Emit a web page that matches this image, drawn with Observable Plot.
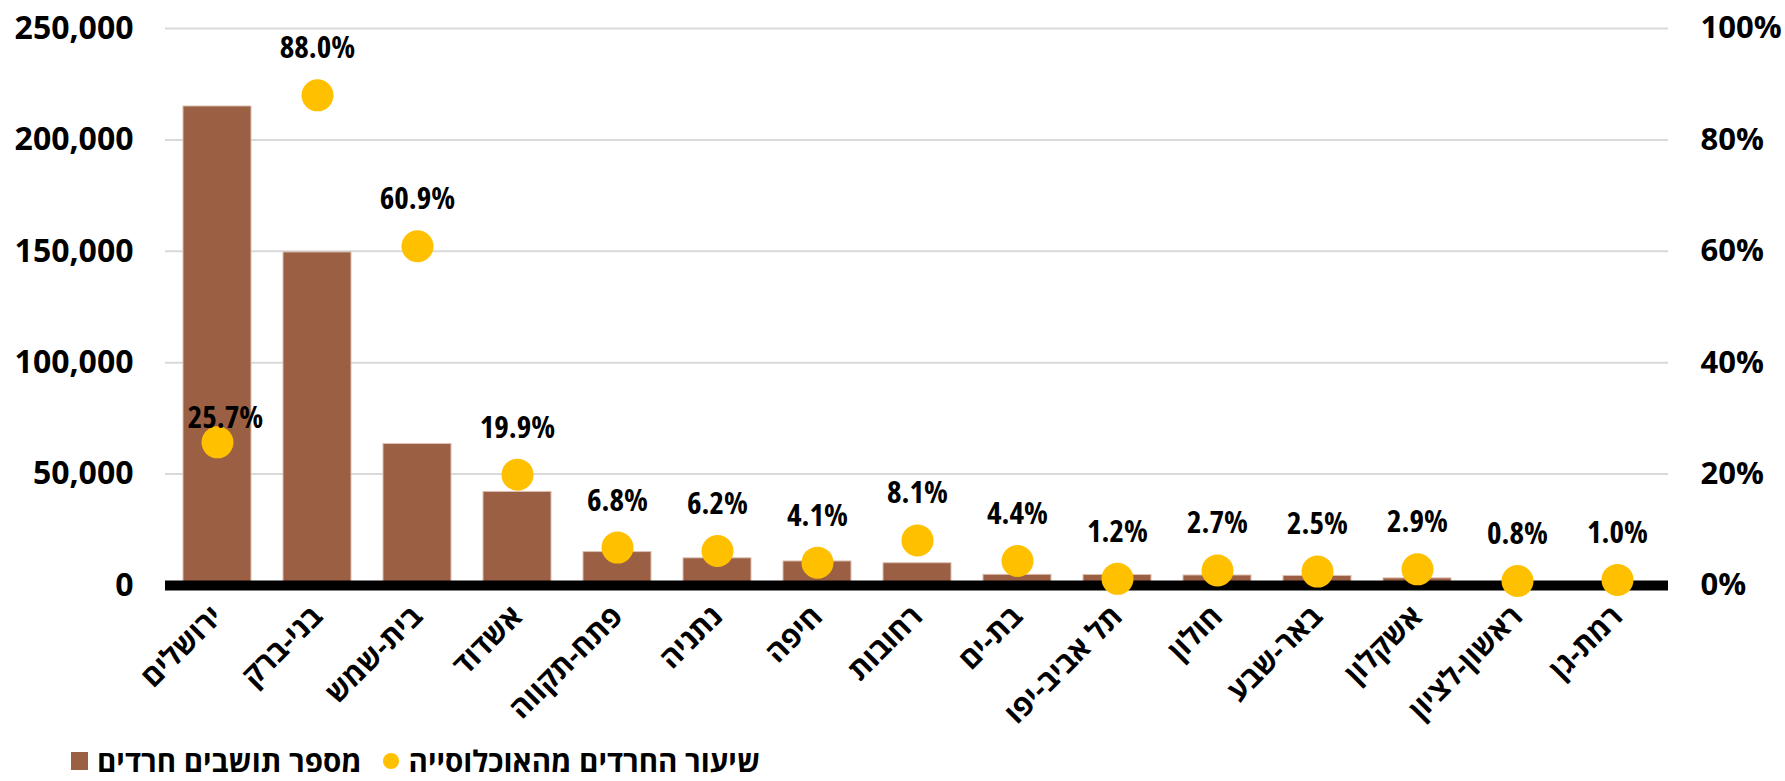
<!DOCTYPE html>
<html lang="he">
<head>
<meta charset="utf-8">
<script src="https://cdn.jsdelivr.net/npm/d3@7"></script>
<script src="https://cdn.jsdelivr.net/npm/@observablehq/plot@0.6"></script>
<style>
  html, body { margin: 0; padding: 0; background: #fff; }
  #wrap { position: relative; width: 1785px; height: 781px; overflow: hidden; }
  #chart svg { display: block; }
  svg g[aria-label="x-axis tick label"] {
    font-family: "Open Sans", sans-serif; font-stretch: 100%; font-weight: 700;
  }
  svg g[aria-label="text"] {
    font-family: "Open Sans", sans-serif; font-stretch: 80%; font-weight: 700;
  }
  #legend {
    position: absolute; left: 71px; top: 746px;
    display: flex; align-items: center;
    font-family: "Open Sans", sans-serif; font-weight: 700;
    font-size: 29.5px; color: #000; line-height: 1; white-space: nowrap;
  }
  #legend .sq { width: 17px; height: 18px; background: #9b5f43; margin-right: 9px; }
  #legend .ci { width: 16px; height: 16px; border-radius: 50%; background: #ffc000; margin: 0 10px 0 21px; }
</style>
</head>
<body>
<div id="wrap">
  <div id="chart"></div>
  <div id="legend">
    <span class="sq"></span><span>מספר תושבים חרדים</span>
    <span class="ci"></span><span>שיעור החרדים מהאוכלוסייה</span>
  </div>
</div>
<script>
const cities = ["ירושלים", "בני-ברק", "בית-שמש", "אשדוד", "פתח-תקווה", "נתניה", "חיפה", "רחובות", "בת-ים", "תל אביב-יפו", "חולון", "באר-שבע", "אשקלון", "ראשון-לציון", "רמת-גן"];
const residents = [215000, 149500, 63500, 42000, 15000, 12200, 10800, 10000, 4800, 4700, 4500, 4300, 3200, 1200, 1500];
const sharePct = [25.7, 88.0, 60.9, 19.9, 6.8, 6.2, 4.1, 8.1, 4.4, 1.2, 2.7, 2.5, 2.9, 0.8, 1.0];
const leftTicks = [0, 50000, 100000, 150000, 200000, 250000];
const rightTickLabels = ["0%", "20%", "40%", "60%", "80%", "100%"];

const data = cities.map((city, i) => ({city, residents: residents[i], pct: sharePct[i]}));
const pctToY = 250000 / 100;

const W = 1785, H = 745, zeroY = 585;

const chart = Plot.plot({
  width: W,
  height: H,
  marginTop: 28,
  marginBottom: H - zeroY,
  marginLeft: 165,
  marginRight: 117,
  style: {fontFamily: "'Open Sans', sans-serif", fontWeight: 700, color: "#000", background: "#fff", overflow: "visible"},
  x: {domain: cities, paddingInner: 0.32, paddingOuter: 0.16, label: null},
  y: {domain: [0, 250000], label: null},
  marks: [
    Plot.gridY(leftTicks.slice(1), {stroke: "#d9d9d9", strokeOpacity: 1, strokeWidth: 2}),
    Plot.axisY(leftTicks, {anchor: "left", tickSize: 0, tickPadding: 32, tickFormat: d3.format(","), fontSize: 32, label: null}),
    Plot.axisY(leftTicks, {anchor: "right", tickSize: 0, tickPadding: 32, tickFormat: (d, i) => rightTickLabels[i], fontSize: 31, label: null}),
    Plot.barY(data, {x: "city", y: "residents", fill: "#9b5f43", stroke: "#dcc0b2", strokeWidth: 1}),
    Plot.ruleY([0], {stroke: "#000", strokeWidth: 10}),
    Plot.dot(data, {x: "city", y: d => d.pct * pctToY, r: 16, fill: "#ffc000", stroke: null}),
    Plot.text(data, {filter: d => d.city !== "ירושלים", x: "city", y: d => d.pct * pctToY, text: d => d.pct.toFixed(1) + "%", dy: -47, fontSize: 31, fill: "#000"}),
    Plot.text(data, {filter: d => d.city === "ירושלים", x: "city", y: d => d.pct * pctToY, text: d => d.pct.toFixed(1) + "%", dy: -24, dx: 8, fontSize: 31, fill: "#000"}),
    Plot.axisX({tickRotate: -45, tickSize: 0, tickPadding: 26, fontSize: 29.5, label: null})
  ]
});
document.getElementById("chart").appendChild(chart);
</script>
</body>
</html>
